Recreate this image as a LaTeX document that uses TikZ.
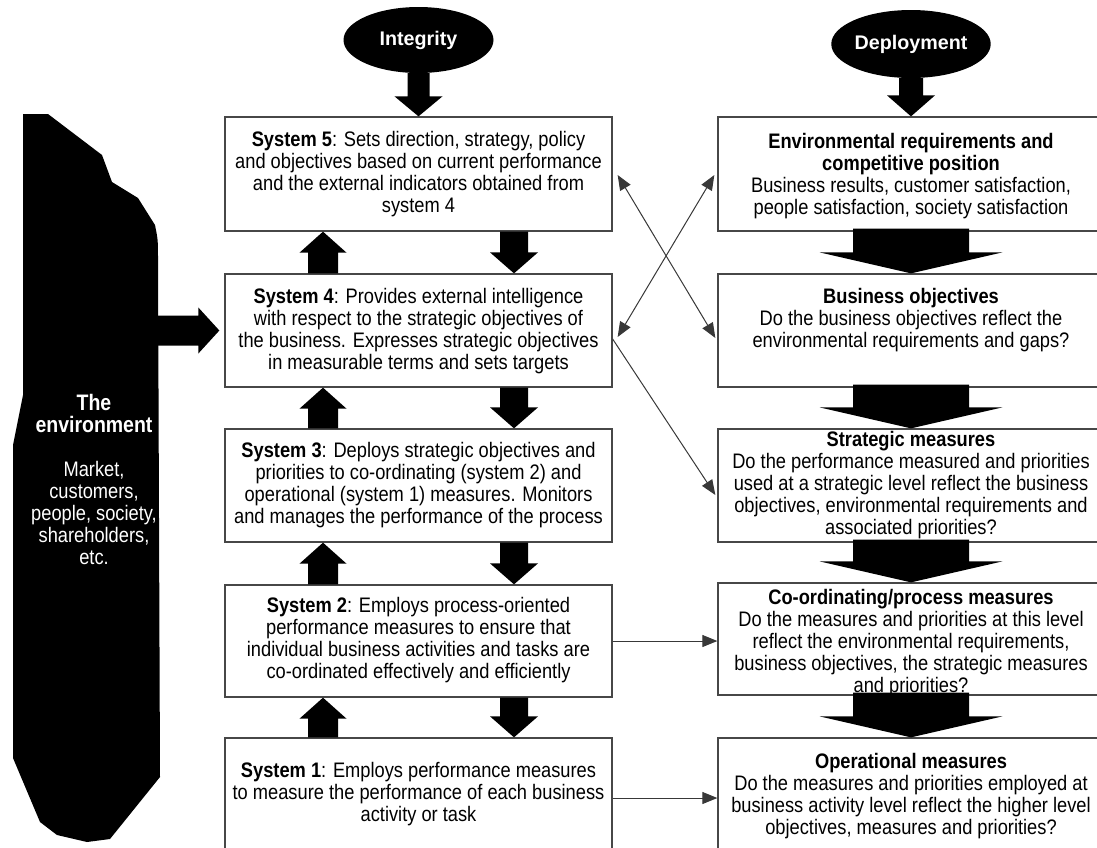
\documentclass[tikz,border=0pt]{standalone}
\usepackage{fontspec}
\setmainfont{Liberation Sans}
\newfontfamily\narrowsans{Liberation Sans}[FakeStretch=0.87]
\usetikzlibrary{arrows.meta,shapes.geometric,calc}

% block arrow: #1 start, #2 tip, #3 half shaft width, #4 half head width, #5 head length
\newcommand\blockarrow[5]{%
  \fill let \p1=(#1), \p2=(#2), \n1={atan2(\y2-\y1,\x2-\x1)} in
    ($(\p1)+(\n1+90:#3pt)$) --
    ($(\p2)+(\n1+180:#5pt)+(\n1+90:#3pt)$) --
    ($(\p2)+(\n1+180:#5pt)+(\n1+90:#4pt)$) --
    (\p2) --
    ($(\p2)+(\n1+180:#5pt)+(\n1-90:#4pt)$) --
    ($(\p2)+(\n1+180:#5pt)+(\n1-90:#3pt)$) --
    ($(\p1)+(\n1-90:#3pt)$) -- cycle;}
\newcommand\envhead[1]{{\fontsize{22.4}{22}\selectfont\bfseries #1}}

\tikzset{
  box/.style={draw=black!72, line width=1.3pt, minimum width=387pt, inner sep=0pt},
  rbox/.style={box, minimum width=386pt},
  boxtext/.style={align=center, inner sep=0pt, font=\narrowsans\fontsize{21}{22}\selectfont},
  envtext/.style={boxtext, text=white},
  oval/.style={ellipse, fill=black, minimum width=150pt, minimum height=66pt,
    inner sep=0pt, text=white, font=\fontsize{19.7}{22}\selectfont\bfseries},
  link/.style={draw=black!78, line width=1pt},
  tip/.style={-{Triangle[length=15pt,width=12pt]}},
  tips/.style={{Triangle[length=15pt,width=12pt]}-{Triangle[length=15pt,width=12pt]}},
}

\begin{document}
\begin{tikzpicture}[x=1pt,y=-1pt]
\useasboundingbox (0,0) rectangle (1097,847);
\clip (0,0) rectangle (1097,847);

% the environment
\fill (23,114) -- (48,114) -- (102,155) -- (112,182) -- (138,198) -- (155,225)
  .. controls (158,240) .. (158,260) -- (160,777) -- (110,839) -- (87,842)
  -- (57,835) -- (40,822) -- (13,758) -- (13,445) -- (23,395) -- cycle;
\coordinate (envedge) at (157,330.5);
\node[envtext] (envlabel) at (94,479.5) {\envhead{The}\\\envhead{environment}\\[22pt]Market,\\customers,\\people, society,\\shareholders,\\etc.};

% headers
\node[oval] (integ) at (418.5,40) {Integrity};
\node[oval, minimum height=68pt] (dep) at (911,44) {Deployment};

% integrity column
\node[box, minimum height=114pt] (s5) at (418.5,174) {};
\node[box, minimum height=113pt] (s4) at (418.5,330.5) {};
\node[box, minimum height=113pt] (s3) at (418.5,485.5) {};
\node[box, minimum height=112pt] (s2) at (418.5,641) {};
\node[box, minimum height=120pt] (s1) at (418.5,798) {};

\node[boxtext] (t5) at (418.5,174.5) {\textbf{System 5}: Sets direction, strategy, policy\\and objectives based on current performance\\and the external indicators obtained from\\system 4};
\node[boxtext] (t4) at (418.5,331) {\textbf{System 4}: Provides external intelligence\\with respect to the strategic objectives of\\the business. Expresses strategic objectives\\in measurable terms and sets targets};
\node[boxtext] (t3) at (418.5,485) {\textbf{System 3}: Deploys strategic objectives and\\priorities to co-ordinating (system 2) and\\operational (system 1) measures. Monitors\\and manages the performance of the process};
\node[boxtext] (t2) at (418.5,640) {\textbf{System 2}: Employs process-oriented\\performance measures to ensure that\\individual business activities and tasks are\\co-ordinated effectively and efficiently};
\node[boxtext] (t1) at (418.5,794) {\textbf{System 1}: Employs performance measures\\to measure the performance of each business\\activity or task};

% deployment column
\node[rbox, minimum height=114pt] (env) at (911,174) {};
\node[rbox, minimum height=113pt] (bo) at (911,330.5) {};
\node[rbox, minimum height=113pt] (sm) at (911,485.5) {};
\node[rbox, minimum height=112pt] (co) at (911,639) {};
\node[rbox, minimum height=120pt] (op) at (911,798) {};

\node[boxtext] (tenv) at (911,176) {\textbf{Environmental requirements and}\\\textbf{competitive position}\\Business results, customer satisfaction,\\people satisfaction, society satisfaction};
\node[boxtext] (tbo) at (911,320.5) {\textbf{Business objectives}\\Do the business objectives reflect the\\environmental requirements and gaps?};
\node[boxtext] (tsm) at (911,485.5) {\textbf{Strategic measures}\\Do the performance measured and priorities\\used at a strategic level reflect the business\\objectives, environmental requirements and\\associated priorities?};
\node[boxtext] (tco) at (911,643) {\textbf{Co-ordinating/process measures}\\Do the measures and priorities at this level\\reflect the environmental requirements,\\business objectives, the strategic measures\\and priorities?};
\node[boxtext] (top) at (911,796) {\textbf{Operational measures}\\Do the measures and priorities employed at\\business activity level reflect the higher level\\objectives, measures and priorities?};

% block arrows
\blockarrow{integ.south}{s5.north}{11}{24}{20}
\blockarrow{dep.south}{env.north}{12}{24}{21}
\blockarrow{envedge}{[xshift=-5pt]s4.west}{15}{23}{21}
\foreach \lo/\hi in {s4/s5, s3/s4, s2/s3, s1/s2}{
  \blockarrow{[xshift=-95.5pt]\lo.north}{[xshift=-95.5pt]\hi.south}{15}{23.5}{21}
  \blockarrow{[xshift=95.5pt]\hi.south}{[xshift=95.5pt]\lo.north}{14}{24}{21}
}
\foreach \hi/\lo in {env/bo, bo/sm, sm/co, co/op}{
  \blockarrow{[yshift=3pt]\hi.south}{\lo.north}{58}{91.5}{21}
}

% links between the columns
\draw[link, tips] ([xshift=5pt,yshift=-1pt]s5.east) -- ([xshift=-2pt,yshift=-7.5pt]bo.west);
\draw[link, tips] ([xshift=-3pt,yshift=-1pt]env.west) -- ([xshift=5pt,yshift=-6.5pt]s4.east);
\draw[link, tip] ([yshift=-8.5pt]s4.east) -- ([xshift=-2pt,yshift=-9.5pt]sm.west);
\draw[link, tip] (s2.east) -- (s2.east -| co.west);
\draw[link, tip] (s1.east) -- (op.west);
\end{tikzpicture}
\end{document}
